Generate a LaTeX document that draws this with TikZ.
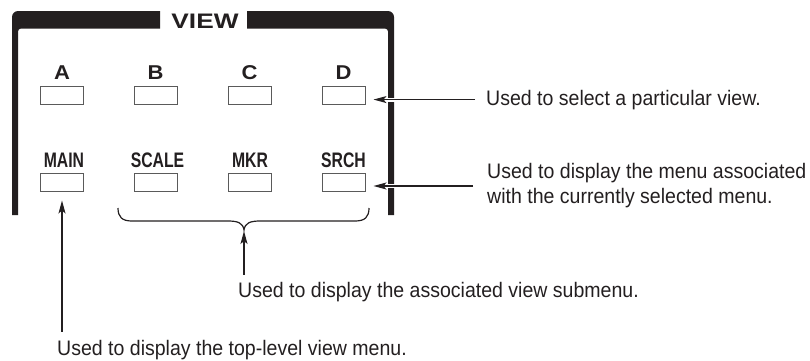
\documentclass[tikz,border=0pt]{standalone}
\usepackage{fontspec}
\setmainfont{Liberation Sans}
\newfontfamily\bodyfont[FakeStretch=0.93]{Liberation Sans}
\newfontfamily\condfont[FakeStretch=0.75]{Liberation Sans}
\newfontfamily\widefont[FakeStretch=1.1]{Liberation Sans}
\newfontfamily\viewfont[FakeStretch=1.25]{Liberation Sans}
\usetikzlibrary{arrows.meta}
\definecolor{framec}{RGB}{35,31,32}
\definecolor{boxc}{RGB}{90,90,90}
\begin{document}
\begin{tikzpicture}[x=1pt,y=-1pt,
  btn/.style={draw=boxc, line width=1pt, fill=white, minimum width=43pt, minimum height=18pt, inner sep=0pt},
  keylbl/.style={anchor=base, inner sep=0pt, text=framec, font=\widefont\bfseries\fontsize{20}{24}\selectfont},
  menulbl/.style={anchor=base, inner sep=0pt, text=framec, font=\condfont\bfseries\fontsize{21}{24}\selectfont},
  note/.style={inner sep=0pt, text=framec, align=left, font=\bodyfont\fontsize{21}{25}\selectfont},
  arr/.style={draw=framec, line width=1.2pt, -{Stealth[length=13pt,width=7pt,inset=3pt]}},
  halo/.style={preaction={draw=white, line width=4pt, arrows={-}}}
]
\useasboundingbox (0,0) rectangle (810,360);
% frame
\fill[framec] (12,215) -- (12,17) .. controls (12,13.7) and (14.7,11) .. (18,11) -- (160,11) -- (160,28.5)
  -- (21,28.5) .. controls (19.3,28.5) and (18,29.8) .. (18,31.5) -- (18,215) -- cycle;
\fill[framec] (247,11) -- (388,11) .. controls (391.3,11) and (394,13.7) .. (394,17) -- (394,215)
  -- (388,215) -- (388,31.5) .. controls (388,29.8) and (386.7,28.5) .. (385,28.5) -- (247,28.5) -- cycle;
\node[anchor=base, inner sep=0pt, text=framec, font=\viewfont\bfseries\fontsize{21}{24}\selectfont] (view) at (205,28) {VIEW};
% buttons row 1
\node[btn] (bA) at (62,95) {};
\node[btn] (bB) at (155.5,95) {};
\node[btn] (bC) at (249.5,95) {};
\node[btn] (bD) at (343.5,95) {};
\node[keylbl] (lA) at (62,79) {A};
\node[keylbl] (lB) at (155.5,79) {B};
\node[keylbl] (lC) at (249.5,79) {C};
\node[keylbl] (lD) at (343.5,79) {D};
% buttons row 2
\node[btn] (bMAIN) at (62,182) {};
\node[btn] (bSCALE) at (155.5,182) {};
\node[btn] (bMKR) at (249.5,182) {};
\node[btn] (bSRCH) at (343.5,182) {};
\node[menulbl] (lMAIN) at (64,167) {MAIN};
\node[menulbl] (lSCALE) at (157.5,167) {SCALE};
\node[menulbl] (lMKR) at (250,167) {MKR};
\node[menulbl] (lSRCH) at (343.5,167) {SRCH};
% notes
\node[note, anchor=base west] (t1) at (486,105) {Used to select a particular view.};
\node[note, anchor=west] (t2) at (487,186) {Used to display the menu associated\\with the currently selected menu.};
\node[note, anchor=base west] (t3) at (238,297) {Used to display the associated view submenu.};
\node[note, anchor=base west] (t4) at (57,355) {Used to display the top-level view menu.};
% brace
\coordinate (cusp) at (244,230);
\draw[framec, line width=1.2pt] (118,208) .. controls (118,217) and (122,221) .. (132,221) -- (228,221)
  .. controls (238,221) and (243,223) .. (cusp) .. controls (245,223) and (250,221) .. (260,221)
  -- (355,221) .. controls (365,221) and (369,217) .. (369,208);
% connectors
\draw[arr, halo, shorten <=11pt, shorten >=8pt] (t1.west) -- (t1.west -| bD.east);
\draw[arr, halo, shorten <=14pt, shorten >=8pt] (t2.west) -- (t2.west -| bSRCH.east);
\draw[arr, shorten <=7pt, shorten >=1pt] (cusp |- t3.north) -- (cusp);
\draw[arr, shorten <=8pt, shorten >=9pt] (bMAIN.south |- t4.north) -- (bMAIN.south);
\end{tikzpicture}
\end{document}
